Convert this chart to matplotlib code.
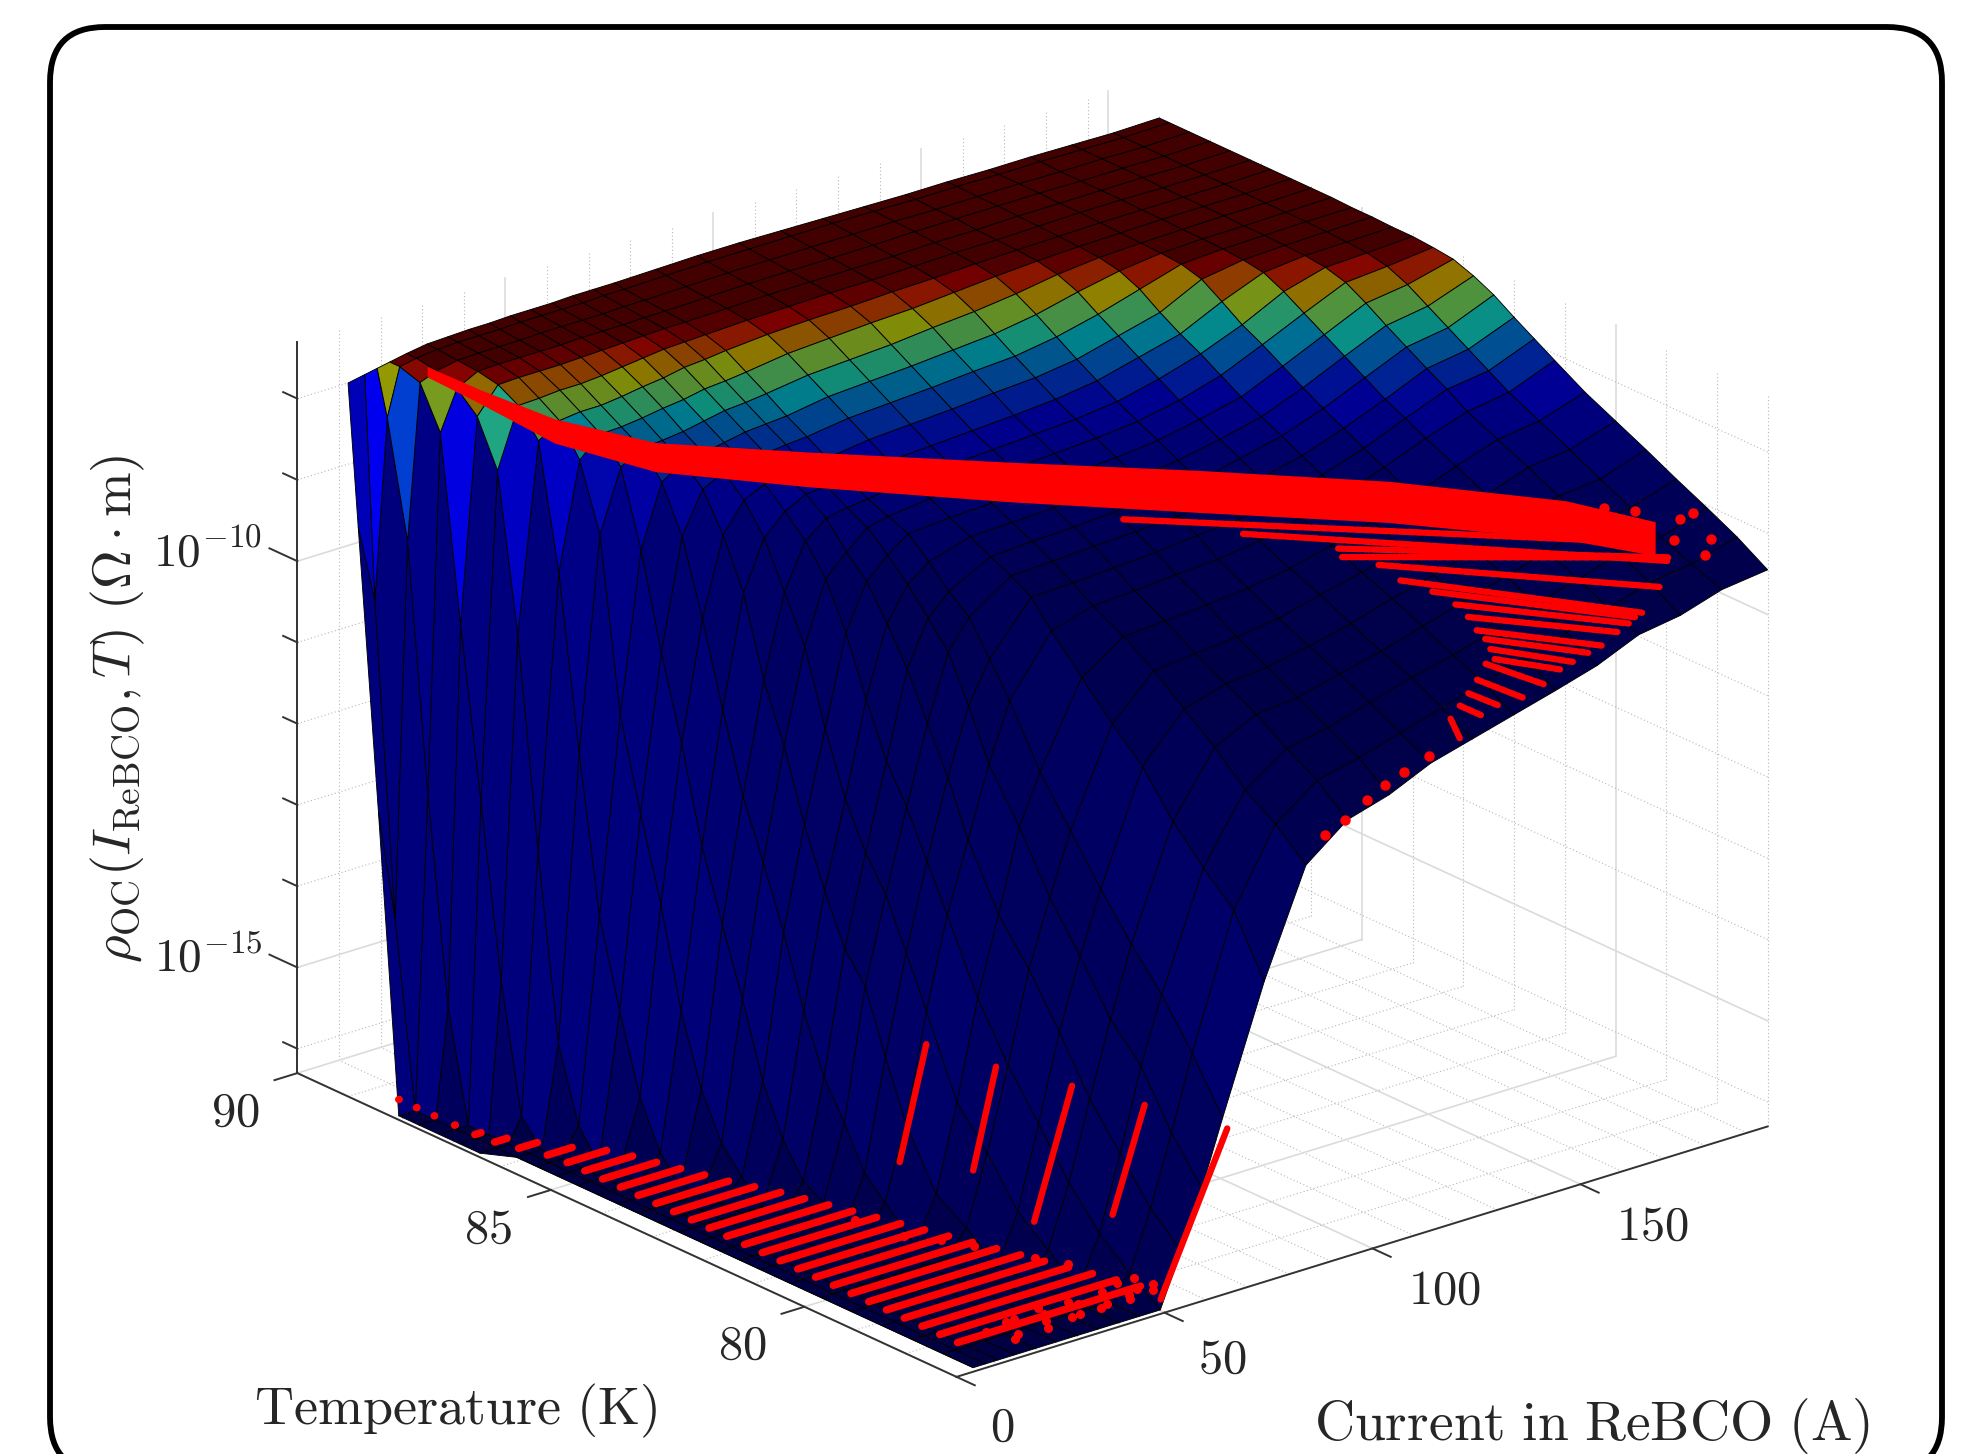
import numpy as np
import matplotlib
matplotlib.use("Agg")
import matplotlib.pyplot as plt
from matplotlib.patches import FancyBboxPatch
from matplotlib.transforms import IdentityTransform
from mpl_toolkits.mplot3d import proj3d
from mpl_toolkits.mplot3d.art3d import Poly3DCollection

plt.rcParams['mathtext.fontset'] = 'cm'
plt.rcParams['font.family'] = ['Liberation Serif', 'DejaVu Serif']

# ---------------- data ----------------
current_A = [0, 4, 7, 10, 14, 19, 24, 29, 34, 39, 44, 49, 54, 59, 64, 74, 84, 94, 104,
             114, 124, 134, 144, 154, 164, 174, 184, 195]
temperature_K = [77, 77.6, 78.2, 78.8, 79.4, 80, 80.6, 81.2, 81.6, 82, 82.4, 82.8, 83.2, 83.6,
                 84, 84.4, 84.8, 85.2, 85.6, 86, 86.4, 86.8, 87.2, 87.6, 88, 88.4, 88.8, 89]
F = -16.25
# log10(rho) for each current (one list per current, one value per temperature)
log_rho_0 = [F]*25 + [-12.63, -9.23, -7.52]
log_rho_4 = [F]*25 + [-14.0, -10.2, -7.48]
log_rho_7 = [F]*23 + [-14.9, -12.4, -9.4, -8.0, -7.45]
log_rho_10 = [F]*20 + [-15.95, -14.4, -12.3, -10.25, -8.0, -7.5, -7.42, -7.42]
log_rho_14 = [F]*18 + [-15.9, -15.0, -12.75, -10.2, -8.3, -7.75, -7.52, -7.42, -7.38, -7.38]
log_rho_19 = [F]*15 + [-15.97, -15.4, -14.45, -13.4, -11.5, -9.4, -7.9, -7.58, -7.44, -7.39, -7.37, -7.35, -7.34]
log_rho_24 = [F]*12 + [-16.0, -15.7, -15.15, -14.3, -13.1, -12.1, -11.0, -8.9, -8.1, -7.73, -7.57, -7.43, -7.38, -7.36, -7.34, -7.33]
log_rho_29 = [F]*9 + [-16.05, -15.9, -15.5, -14.9, -14.0, -13.2, -12.35, -11.2, -10.2, -9.05, -8.15, -7.86, -7.7, -7.55, -7.43, -7.38, -7.36, -7.34, -7.32]
log_rho_34 = [F]*7 + [-15.9, -15.65, -15.15, -14.7, -14.0, -13.15, -12.4, -11.7, -10.75, -9.75, -8.85, -8.3, -8.0, -7.85, -7.7, -7.55, -7.43, -7.38, -7.36, -7.34, -7.32]
log_rho_39 = [F]*5 + [-15.95, -15.7, -15.0, -14.3, -13.55, -13.2, -12.6, -11.9, -11.05, -10.35, -9.4, -8.8, -8.35, -8.13, -7.98, -7.82, -7.67, -7.53, -7.42, -7.38, -7.35, -7.33, -7.31]
log_rho_44 = [F]*3 + [-15.95, -15.65, -15.1, -14.65, -13.7, -13.1, -12.5, -12.1, -11.55, -10.8, -9.9, -9.35, -8.8, -8.45, -8.22, -8.1, -7.95, -7.78, -7.63, -7.5, -7.41, -7.37, -7.35, -7.33, -7.31]
log_rho_49 = [F] + [-15.97, -15.65, -15.2, -14.65, -14.1, -13.45, -12.6, -12.05, -11.5, -11.05, -10.4, -9.7, -9.15, -8.8, -8.55, -8.33, -8.2, -8.05, -7.9, -7.75, -7.6, -7.47, -7.4, -7.37, -7.35, -7.33, -7.31]
log_rho_54 = [-15.6, -15.25, -14.75, -14.25, -13.6, -13.0, -12.5, -11.75, -11.1, -10.55, -10.0, -9.55, -9.15, -8.9, -8.6, -8.42, -8.3, -8.15, -8.0, -7.85, -7.7, -7.55, -7.44, -7.39, -7.37, -7.35, -7.33, -7.3]
log_rho_59 = [-14.91, -14.4, -13.75, -13.35, -12.75, -12.2, -11.5, -10.9, -10.3, -9.75, -9.45, -9.15, -8.9, -8.68, -8.55, -8.4, -8.28, -8.12, -7.98, -7.83, -7.68, -7.53, -7.43, -7.38, -7.36, -7.34, -7.32, -7.3]
log_rho_64 = [-14.12, -13.5, -12.95, -12.5, -12.0, -11.45, -10.9, -10.2, -9.8, -9.4, -9.2, -8.95, -8.72, -8.62, -8.52, -8.38, -8.25, -8.1, -7.96, -7.8, -7.65, -7.5, -7.42, -7.38, -7.36, -7.34, -7.32, -7.3]
log_rho_74 = [-12.6, -11.9, -11.55, -11.15, -10.65, -10.3, -9.9, -9.5, -9.2, -9.05, -8.93, -8.8, -8.68, -8.56, -8.45, -8.33, -8.18, -8.03, -7.88, -7.73, -7.58, -7.46, -7.4, -7.37, -7.35, -7.33, -7.31, -7.29]
log_rho_84 = [-11.33, -11.0, -10.75, -10.4, -10.1, -9.8, -9.55, -9.35, -9.18, -9.03, -8.9, -8.78, -8.66, -8.54, -8.42, -8.3, -8.15, -8.0, -7.85, -7.7, -7.55, -7.44, -7.39, -7.36, -7.34, -7.32, -7.3, -7.28]
log_rho_94 = [-10.93, -10.62, -10.4, -10.15, -9.95, -9.75, -9.52, -9.32, -9.15, -9.0, -8.88, -8.76, -8.63, -8.51, -8.39, -8.27, -8.12, -7.97, -7.82, -7.67, -7.52, -7.43, -7.38, -7.36, -7.34, -7.32, -7.3, -7.28]
log_rho_104 = [-10.78, -10.5, -10.3, -10.1, -9.9, -9.7, -9.48, -9.28, -9.12, -8.98, -8.85, -8.72, -8.6, -8.48, -8.36, -8.24, -8.08, -7.93, -7.78, -7.62, -7.5, -7.41, -7.38, -7.36, -7.34, -7.32, -7.3, -7.29]
log_rho_114 = [-10.55, -10.35, -10.15, -9.97, -9.8, -9.63, -9.43, -9.25, -9.07, -8.95, -8.82, -8.7, -8.57, -8.45, -8.33, -8.2, -8.05, -7.9, -7.74, -7.58, -7.46, -7.4, -7.37, -7.36, -7.34, -7.32, -7.3, -7.3]
log_rho_124 = [-10.41, -10.2, -10.0, -9.85, -9.68, -9.5, -9.35, -9.18, -9.03, -8.9, -8.78, -8.65, -8.52, -8.4, -8.27, -8.13, -7.98, -7.82, -7.66, -7.52, -7.42, -7.38, -7.36, -7.35, -7.33, -7.32, -7.31, -7.31]
log_rho_134 = [-10.27, -10.05, -9.88, -9.7, -9.53, -9.38, -9.22, -9.05, -8.92, -8.8, -8.67, -8.55, -8.42, -8.3, -8.15, -8.0, -7.85, -7.7, -7.54, -7.44, -7.39, -7.37, -7.36, -7.35, -7.33, -7.33, -7.32, -7.32]
log_rho_144 = [-10.13, -9.9, -9.73, -9.55, -9.4, -9.25, -9.08, -8.92, -8.8, -8.68, -8.55, -8.43, -8.3, -8.15, -8.0, -7.87, -7.72, -7.55, -7.44, -7.39, -7.37, -7.36, -7.35, -7.34, -7.33, -7.33, -7.32, -7.32]
log_rho_154 = [-9.98, -9.75, -9.57, -9.4, -9.25, -9.08, -8.92, -8.75, -8.63, -8.5, -8.37, -8.23, -8.08, -7.93, -7.8, -7.63, -7.47, -7.4, -7.38, -7.37, -7.36, -7.35, -7.34, -7.34, -7.33, -7.33, -7.33, -7.33]
log_rho_164 = [-9.76, -9.6, -9.42, -9.25, -9.07, -8.9, -8.72, -8.55, -8.42, -8.3, -8.15, -8.0, -7.85, -7.7, -7.55, -7.43, -7.39, -7.37, -7.36, -7.36, -7.35, -7.35, -7.34, -7.34, -7.34, -7.34, -7.33, -7.33]
log_rho_174 = [-9.68, -9.45, -9.27, -9.08, -8.9, -8.72, -8.55, -8.38, -8.22, -8.08, -7.93, -7.78, -7.62, -7.48, -7.41, -7.38, -7.37, -7.36, -7.36, -7.35, -7.35, -7.35, -7.35, -7.34, -7.34, -7.34, -7.34, -7.34]
log_rho_184 = [-9.52, -9.38, -9.22, -9.03, -8.85, -8.66, -8.48, -8.3, -8.15, -8.0, -7.85, -7.7, -7.55, -7.44, -7.39, -7.37, -7.36, -7.35, -7.35, -7.35, -7.35, -7.35, -7.35, -7.35, -7.35, -7.35, -7.35, -7.35]
log_rho_195 = [-9.45, -9.22, -9.03, -8.85, -8.66, -8.48, -8.3, -8.08, -7.93, -7.78, -7.62, -7.5, -7.41, -7.38, -7.36, -7.36, -7.35, -7.35, -7.34, -7.34, -7.34, -7.34, -7.34, -7.34, -7.34, -7.34, -7.34, -7.34]
log_rho_columns = [log_rho_0, log_rho_4, log_rho_7, log_rho_10, log_rho_14, log_rho_19, log_rho_24, log_rho_29,
                   log_rho_34, log_rho_39, log_rho_44, log_rho_49, log_rho_54, log_rho_59, log_rho_64, log_rho_74,
                   log_rho_84, log_rho_94, log_rho_104, log_rho_114, log_rho_124, log_rho_134, log_rho_144,
                   log_rho_154, log_rho_164, log_rho_174, log_rho_184, log_rho_195]
log_rho_top = -7.38   # value at the top of the colour scale

# measurements: low-current rows lying on the floor
row_T = [88, 87.65, 87.3, 86.9, 86.5, 86.15, 85.8, 85.4, 85.05, 84.7, 84.35, 84, 83.65, 83.3, 82.95, 82.6,
         82.25, 81.9, 81.55, 81.2, 80.85, 80.5, 80.15, 79.8, 79.45, 79.1, 78.75, 78.4, 78.05, 77.7, 77.35]
row_I_start = [0, 0, 0, 0, 0, 0.5, 2, 4, 4.5, 4.5, 4.5, 4.5, 4.5, 4.5, 4.5, 4.5,
               4.5, 4.5, 4.5, 4.5, 4.5, 4.5, 4.5, 4.5, 4.5, 4.5, 4.5, 4.5, 4.5, 4.5, 4.5]
row_I_end = [0.1, 0.1, 0.1, 0.2, 1.5, 3.5, 6.5, 10, 14, 16, 17.5, 19, 20.5, 22, 24, 26,
             27.5, 29, 30.5, 32, 33.5, 35, 36.5, 38, 39.5, 41, 42.5, 44, 45.5, 47, 48.5]
row_log_rho = -16.05
# measurements: scattered low-current points
floor_I = [12, 14, 16, 18, 20, 22, 24, 26, 27, 29, 31, 33, 34, 36, 38, 40, 41, 43, 44, 46, 47, 49, 50, 51, 30, 34, 37, 28, 42, 45]
floor_T = [77.4, 77.0, 77.1, 77.5, 77.5, 77.0, 77.2, 77.4, 77.6, 77.1, 77.1, 77.5, 77.4, 77.1, 77.15, 77.4, 77.5, 77.1, 77.2, 77.6, 77.3, 77.15, 77.6, 77.3, 80.5, 80.1, 79.7, 81.3, 78.9, 78.5]
# measurements: steep streaks at fixed temperature (T, I start, I end, log rho start, log rho end)
streak_T = [77.1, 78.4, 79.8, 81.2, 82.6]
streak_I0 = [50.3, 54.6, 52.8, 55.2, 54.6]
streak_I1 = [66.3, 62.3, 61.9, 60.7, 61.0]
streak_z0 = [-16.17, -15.57, -16.03, -15.84, -16.13]
streak_z1 = [-14.32, -14.34, -14.5, -14.65, -14.78]
# measurements: main dense band (upper and lower edge)
band_I = [14.3, 24.3, 34.3, 49.3, 74.3, 104.3, 134.3, 164.3, 189.3, 192.3]
band_T = [88.6, 88.42, 87.74, 86.98, 86.04, 84.51, 83.24, 81.96, 80.52, 79.01]
band_z_top = [-7.44, -7.82, -8.15, -8.46, -8.70, -8.86, -9.07, -9.31, -9.53, -9.40]
band_z_bot = [-7.55, -7.97, -8.43, -8.80, -9.11, -9.33, -9.57, -9.80, -9.99, -9.80]
# measurements: fan of rows under the band (I0, T0, z0, I1, T1, z1)
fan_I0 = [123.6, 135.8, 144.9, 142.8, 145.6, 143.9, 145, 144.3, 142.2, 152, 150.5, 148.1, 145.6, 142.8, 136.6, 131.1, 126, 120.6]
fan_T0 = [83.85, 82.49, 81.36, 81.11, 80.62, 80.05, 79.51, 79, 78.58, 79.21, 78.92, 78.62, 78.33, 78.28, 77.94, 77.66, 77.41, 77.15]
fan_I1 = [190.5, 188.4, 189.6, 189.6, 179.2, 168.6, 166.4, 163.3, 159, 165.2, 161, 156.2, 151.9, 144.8, 137.6, 131.7, 126.1, 122.2]
fan_T1 = [79.12, 78.44, 78.52, 78.52, 77.83, 77.31, 77.23, 77.14, 77.01, 77.83, 77.75, 77.61, 77.53, 77.3, 77.12, 77.08, 77.0, 77.1]
fan_z0 = [-9.67, -9.65, -9.65, -9.65, -9.65, -9.65, -9.65, -9.65, -9.65, -10.15, -10.15, -10.15, -10.15, -10.15, -10.15, -10.15, -10.15, -10.15]
fan_z1 = [-9.65, -9.65, -9.65, -9.65, -9.65, -9.65, -9.65, -9.65, -9.65, -10.15, -10.15, -10.15, -10.15, -10.15, -10.15, -10.15, -10.15, -10.4]
# measurements: isolated points
dot_I = [114.9, 108.8, 104.3, 99.8, 94.6, 89.8, 189.3, 192.3, 186.3, 184.3, 192.3, 186.3, 179.3]
dot_T = [77.1, 77.1, 77.1, 77.1, 77.1, 77.1, 78.01, 77.89, 78.02, 78.73, 78.01, 78.14, 78.94]
dot_z = [-10.5, -10.6, -10.69, -10.81, -10.97, -11.08, -8.95, -9.28, -8.98, -9.05, -9.52, -9.27, -9.0]

# axes
I_lim = (0, 195)
T_lim = (77, 90)
Z_lim = (-16.3, -7.3)
I_ticks = [0, 50, 100, 150]
T_ticks = [80, 85, 90]
Z_major = [-10, -15]
Z_decades = [-16, -15, -14, -13, -12, -11, -10, -9, -8]
I_minor = [0, 10, 20, 30, 40, 50, 60, 70, 80, 90, 100, 110, 120, 130, 140, 150, 160, 170, 180, 190]
T_minor = [77, 78, 79, 80, 81, 82, 83, 84, 85, 86, 87, 88, 89, 90]
I_label_shift = [-3, 0, 3.3, 3.3]

# ---------------- figure ----------------
W, H = 1984, 1454
SX, SY = W / 1568, H / 1149
fig = plt.figure(figsize=(W / 100, H / 100), dpi=100, facecolor='white')
fig.add_artist(FancyBboxPatch((50, -18), 1892, 1445, boxstyle='round,pad=0,rounding_size=55',
                              transform=IdentityTransform(), fc='white', ec='black', lw=4.2, zorder=0))

ax = fig.add_axes([0, 0, 1, 1], projection='3d', computed_zorder=False)
ax.set_proj_type('ortho')
ax.view_init(elev=22.16, azim=-129.3)
ax.set_box_aspect((828.4, 822.5, 624.1))
ax.set_xlim(*I_lim, view_margin=0)
ax.set_ylim(*T_lim, view_margin=0)
ax.set_zlim(*Z_lim, view_margin=0)
ax.set_xticks([])
ax.set_yticks([])
ax.set_zticks([])
ax.set_axis_off()
ax.patch.set_alpha(0)

# place the box so that its corners land where they do in the reference
fig.canvas.draw()
ax.apply_aspect()
M = ax.get_proj()
def unit(i, t, z):
    xp, yp, _ = proj3d.proj_transform(i, t, z, M)
    return ax.transAxes.inverted().transform(ax.transData.transform((xp, yp)))
uL = unit(I_lim[0], T_lim[1], Z_lim[0])
uR = unit(I_lim[1], T_lim[0], Z_lim[0])
px_L = np.array([235 * SX, H - 848 * SY])
px_R = np.array([1397 * SX, H - 890 * SY])
box_w = (px_R[0] - px_L[0]) / (uR[0] - uL[0])
box_x0 = px_L[0] - box_w * uL[0]
box_y0 = px_L[1] - box_w * uL[1]
ax.set_position([box_x0 / W, box_y0 / H, box_w / W, box_w / H])

# grid on floor and back walls
major = dict(color='0.86', lw=1.2, zorder=1)
minor = dict(color='0.72', lw=0.8, ls=(0, (1, 2.2)), zorder=1)
zb, zt = Z_lim
for i in I_minor:
    st = major if i in I_ticks else minor
    ax.plot([i, i], T_lim, [zb, zb], **st)
    ax.plot([i, i], [T_lim[1]] * 2, Z_lim, **st)
for t in T_minor:
    st = major if t in T_ticks else minor
    ax.plot(I_lim, [t, t], [zb, zb], **st)
    ax.plot([I_lim[1]] * 2, [t, t], Z_lim, **st)
for z in Z_decades:
    st = major if z in Z_major else minor
    ax.plot(I_lim, [T_lim[1]] * 2, [z, z], **st)
    ax.plot([I_lim[1]] * 2, T_lim, [z, z], **st)

# axis lines and ticks
axis = dict(color='0.2', lw=1.4, zorder=2)
ax.plot(I_lim, [T_lim[0]] * 2, [zb, zb], **axis)
ax.plot([I_lim[0]] * 2, T_lim, [zb, zb], **axis)
ax.plot([I_lim[0]] * 2, [T_lim[1]] * 2, Z_lim, **axis)
for i in I_ticks:
    ax.plot([i, i], [T_lim[0], T_lim[0] - 0.36], [zb, zb], **axis)
for t in T_ticks:
    ax.plot([0, -5.5], [t, t], [zb, zb], **axis)
for z in Z_decades:
    ax.plot([0, 0], [T_lim[1], T_lim[1] + (0.55 if z in Z_major else 0.28)], [z, z], **axis)

# surface
Z = np.array(log_rho_columns).T
X, Y = np.meshgrid(current_A, temperature_K)
X[np.array(temperature_K) <= 86, 0] = current_A[1]
stack = np.stack([Z[:-1, :-1], Z[1:, :-1], Z[:-1, 1:], Z[1:, 1:]])
cell = 10.0 ** stack.mean(axis=0)
spread = stack.max(axis=0) - stack.min(axis=0)
tone = np.clip(0.52 + 0.15 * spread, 0.52, 0.98)
rgba = plt.get_cmap('jet')(np.clip(cell / 10.0 ** log_rho_top, 0, 1))
rgba[..., :3] *= tone[..., None]
face = np.ones(Z.shape + (4,))
face[:-1, :-1] = rgba
surf = ax.plot_surface(X, Y, Z, facecolors=face, rstride=1, cstride=1, shade=False,
                       edgecolor='black', linewidth=0.65, antialiased=True, zorder=3)

# measurements
red = 'red'
for t, i0, i1 in zip(row_T, row_I_start, row_I_end):
    ax.plot([i0, i1], [t, t], [row_log_rho] * 2, color=red, lw=5.4, solid_capstyle='round', zorder=5)
ax.plot(floor_I, floor_T, [row_log_rho] * len(floor_I), ls='none', marker='o', ms=6.5, color=red, mew=0, zorder=5)
for t, i0, i1, z0, z1 in zip(streak_T, streak_I0, streak_I1, streak_z0, streak_z1):
    ax.plot([i0, i1], [t, t], [z0, z1], color=red, lw=4.6, solid_capstyle='round', zorder=5)
for i0, t0, z0, i1, t1, z1 in zip(fan_I0, fan_T0, fan_z0, fan_I1, fan_T1, fan_z1):
    ax.plot([i0, i1], [t0, t1], [z0, z1], color=red, lw=4.6, ls=(0, (0.9, 0.45)),
            dash_capstyle='round', zorder=5)
ax.plot(dot_I, dot_T, dot_z, ls='none', marker='o', ms=7.5, color=red, mew=0, zorder=5)
verts = list(zip(band_I, band_T, band_z_top)) + list(zip(band_I[::-1], band_T[::-1], band_z_bot[::-1]))
band = Poly3DCollection([verts], facecolor=red, edgecolor=red, linewidth=1, zorder=6)
ax.add_collection3d(band)

# labels
num = dict(fontsize=35, color='0.15', ha='center', va='center', zorder=8, clip_on=False)
for i, shift in zip(I_ticks, I_label_shift):
    ax.text(i + shift, 75.85, -16.56, rf'$\mathrm{{{i}}}$', **num)
for t in T_ticks:
    ax.text(-15, t, -16.56, rf'$\mathrm{{{t}}}$', **num)
for z in Z_major:
    ax.text(-8.5, T_lim[1], z + 0.24, rf'$\mathrm{{10^{{{z}}}}}$',
            **{**num, 'ha': 'right', 'fontsize': 34})
fig.text(360 * SX / W, 1 - 1115 * SY / H, r'$\mathrm{Temperature\ (K)}$', fontsize=39, color='0.15',
         ha='center', va='center')
fig.text(1258 * SX / W, 1 - 1127 * SY / H, r'$\mathrm{Current\ in\ ReBCO\ (A)}$', fontsize=40, color='0.15',
         ha='center', va='center')
fig.text(93 * SX / W, 1 - 560 * SY / H,
         r'$\rho_{\mathrm{OC}}(I_{\mathrm{ReBCO}},T)\ (\Omega\cdot\mathrm{m})$', fontsize=38.5, color='0.15',
         ha='center', va='center', rotation=90)

fig.savefig('out.png', dpi=100)
